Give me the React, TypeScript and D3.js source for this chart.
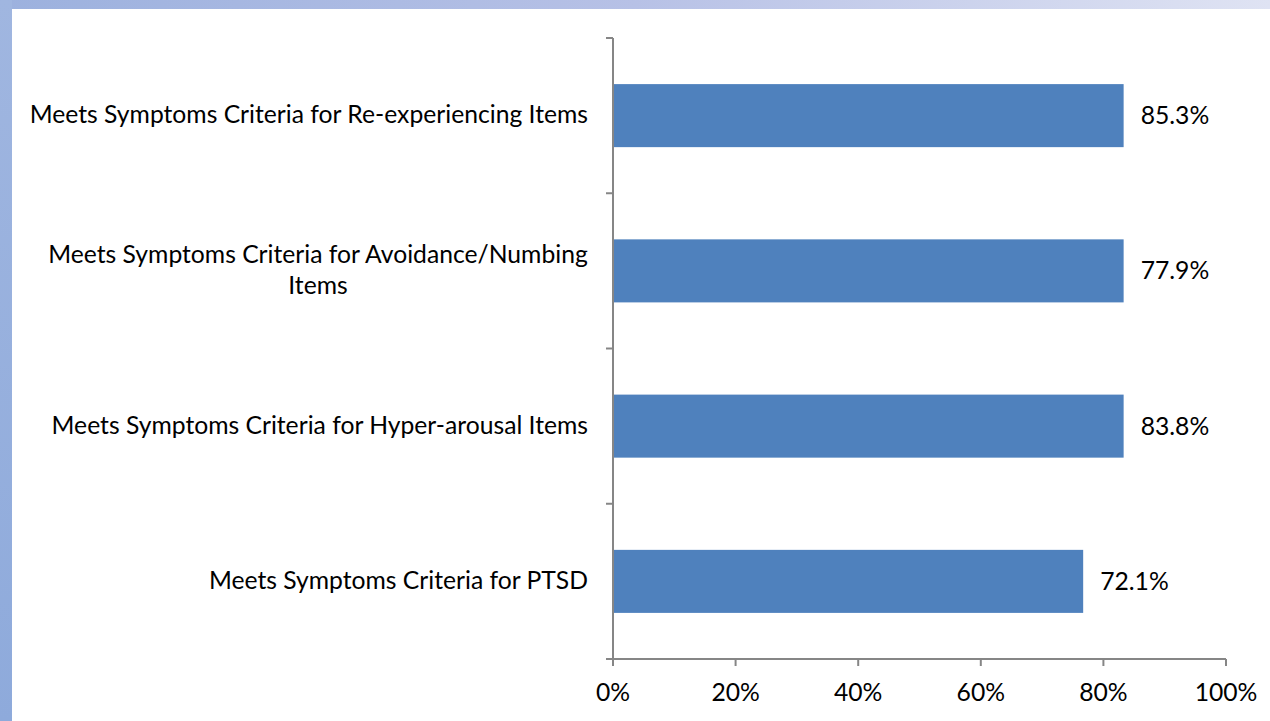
import * as d3 from "d3";

// categories, top to bottom
const categories = [
  "Meets Symptoms Criteria for Re-experiencing Items",
  "Meets Symptoms Criteria for Avoidance/Numbing Items",
  "Meets Symptoms Criteria for Hyper-arousal Items",
  "Meets Symptoms Criteria for PTSD",
];
// bar lengths as drawn in the picture (fraction of 100%)
const barValues = [0.833, 0.833, 0.833, 0.767];
// data labels as printed
const dataLabels = ["85.3%", "77.9%", "83.8%", "72.1%"];
const xTicks = [0, 0.2, 0.4, 0.6, 0.8, 1.0];

const W = 1270;
const H = 721;
const margin = { top: 38, right: 44, bottom: 62, left: 613 };
const FONT = "Lato, 'Open Sans', sans-serif";
const FS = 24.7;
const AXIS = "#868686";
const LABEL_RIGHT = 588;

const App = () => {
  const x = d3
    .scaleLinear()
    .domain([0, 1])
    .range([margin.left, W - margin.right]);
  const y = d3
    .scaleBand()
    .domain(categories)
    .range([margin.top, H - margin.bottom])
    .padding(0);
  const barH = y.step() * 0.406;
  const y0 = margin.top;
  const y1 = H - margin.bottom;

  // wrapped lines for the long label
  const labelLines = (c: string) =>
    c.includes("Avoidance") ? ["Meets Symptoms Criteria for Avoidance/Numbing", "Items"] : [c];

  return (
    <svg width={W} height={H} style={{ position: "absolute", left: 0, top: 0 }}>
      <defs>
        <linearGradient id="topband" x1="0" x2="1" y1="0" y2="0">
          <stop offset="0" stopColor="#9cb1de" />
          <stop offset="0.5" stopColor="#b7c1e6" />
          <stop offset="1" stopColor="#dfe3f3" />
        </linearGradient>
        <linearGradient id="leftband" x1="0" x2="0" y1="0" y2="1">
          <stop offset="0" stopColor="#a0b6e0" />
          <stop offset="1" stopColor="#8eaadb" />
        </linearGradient>
      </defs>
      <rect x={0} y={0} width={W} height={H} fill="#ffffff" />
      <rect x={0} y={0} width={W} height={9} fill="url(#topband)" />
      <rect x={0} y={0} width={12} height={H} fill="url(#leftband)" />

      {/* bars */}
      {categories.map((c, i) => {
        const cy = (y(c) as number) + y.bandwidth() / 2;
        return (
          <g key={c}>
            <rect
              x={x(0)}
              y={cy - barH / 2}
              width={x(barValues[i]) - x(0)}
              height={barH}
              fill="#4f81bd"
            />
            <text
              x={x(barValues[i]) + 17}
              y={cy + 8.5}
              fontFamily={FONT}
              fontSize={FS}
              fill="#000"
            >
              {dataLabels[i]}
            </text>
          </g>
        );
      })}

      {/* y axis */}
      <line x1={x(0)} x2={x(0)} y1={y0} y2={y1} stroke={AXIS} strokeWidth={2} />
      {d3.range(categories.length + 1).map((k) => {
        const ty = y0 + k * y.step();
        return <line key={k} x1={x(0) - 7} x2={x(0)} y1={ty} y2={ty} stroke={AXIS} strokeWidth={2} />;
      })}
      {categories.map((c) => {
        const cy = (y(c) as number) + y.bandwidth() / 2;
        const lines = labelLines(c);
        if (lines.length === 1) {
          return (
            <text
              key={c}
              x={LABEL_RIGHT}
              y={cy + 7.5}
              textAnchor="end"
              fontFamily={FONT}
              fontSize={FS}
              fill="#000"
            >
              {c}
            </text>
          );
        }
        // wrapped label: both lines centred on the first line's midpoint
        const mid = LABEL_RIGHT - 270;
        return (
          <g key={c} fontFamily={FONT} fontSize={FS} fill="#000" textAnchor="middle">
            <text x={mid} y={cy - 7.5}>{lines[0]}</text>
            <text x={mid} y={cy + 23.5}>{lines[1]}</text>
          </g>
        );
      })}

      {/* x axis */}
      <line x1={x(0) - 7} x2={x(1)} y1={y1} y2={y1} stroke={AXIS} strokeWidth={2} />
      {xTicks.map((t) => (
        <g key={t}>
          <line x1={x(t)} x2={x(t)} y1={y1} y2={y1 + 7} stroke={AXIS} strokeWidth={2} />
          <text
            x={x(t)}
            y={701}
            textAnchor="middle"
            fontFamily={FONT}
            fontSize={FS}
            fill="#000"
          >
            {d3.format(".0%")(t)}
          </text>
        </g>
      ))}
    </svg>
  );
};

export default App;
